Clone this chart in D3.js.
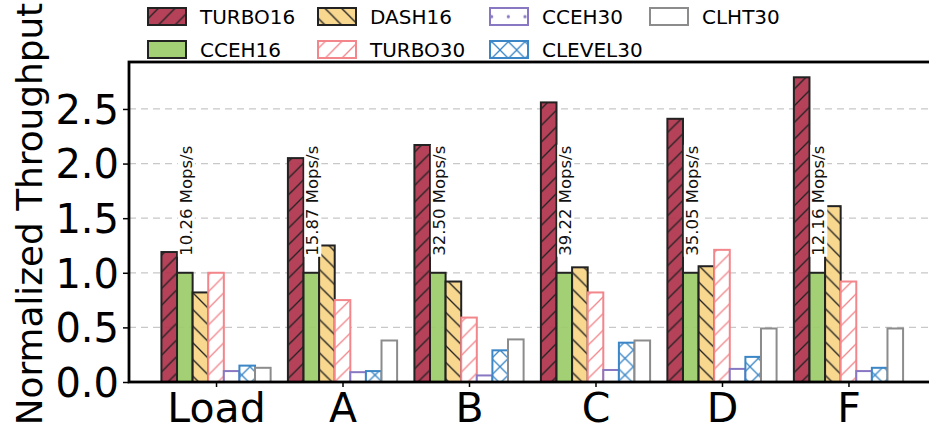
<!DOCTYPE html>
<html>
<head>
<meta charset="utf-8">
<script src="https://cdn.jsdelivr.net/npm/d3@7"></script>
<style>
  body { margin: 0; background: #fff; }
  svg { display: block; font-family: "DejaVu Sans", sans-serif; }
</style>
</head>
<body>
<svg id="chart" width="929" height="431"></svg>
<script>
// Workloads on the x axis
const categories = ["Load", "A", "B", "C", "D", "F"];

// Throughput normalized to CCEH16, one array per index
const turbo16  = [1.19, 2.05, 2.17, 2.56, 2.41, 2.79];
const cceh16   = [1.00, 1.00, 1.00, 1.00, 1.00, 1.00];
const dash16   = [0.82, 1.25, 0.92, 1.05, 1.06, 1.61];
const turbo30  = [1.00, 0.75, 0.59, 0.82, 1.21, 0.92];
const cceh30   = [0.10, 0.09, 0.06, 0.11, 0.12, 0.10];
const clevel30 = [0.15, 0.10, 0.29, 0.36, 0.23, 0.13];
const clht30   = [0.13, 0.38, 0.39, 0.38, 0.49, 0.49];

// Absolute throughput of the CCEH16 baseline for each workload
const baselineLabels = ["10.26 Mops/s", "15.87 Mops/s", "32.50 Mops/s",
                        "39.22 Mops/s", "35.05 Mops/s", "12.16 Mops/s"];

const yTicks = [0, 0.5, 1.0, 1.5, 2.0, 2.5];
const yTickLabels = ["0.0", "0.5", "1.0", "1.5", "2.0", "2.5"];

const series = [
  { name: "TURBO16",  values: turbo16,  fill: "#b0344d", stroke: "#222", hatch: "fwd",  hatchColor: "#222", opaque: true },
  { name: "CCEH16",   values: cceh16,   fill: "#9ccc6a", stroke: "#222", hatch: null,   hatchColor: null,   opaque: true },
  { name: "DASH16",   values: dash16,   fill: "#f8d486", stroke: "#222", hatch: "back", hatchColor: "#222", opaque: true },
  { name: "TURBO30",  values: turbo30,  fill: "#fff",    stroke: "#f2868b", hatch: "fwd",  hatchColor: "#f2868b" },
  { name: "CCEH30",   values: cceh30,   fill: "#fff",    stroke: "#8877c2", hatch: "dots", hatchColor: "#8877c2" },
  { name: "CLEVEL30", values: clevel30, fill: "#fff",    stroke: "#3a86c6", hatch: "cross", hatchColor: "#3a86c6" },
  { name: "CLHT30",   values: clht30,   fill: "#fff",    stroke: "#8c8c8c", hatch: null,   hatchColor: null }
];

const svg = d3.select("#chart");
const plot = { left: 129, right: 935.5, top: 62, bottom: 382 };

const x = d3.scalePoint().domain(categories)
  .range([plot.left, plot.right]).padding(0.688);
const y = d3.scaleLinear().domain([0, 2.93]).range([plot.bottom, plot.top]);
const barW = 15.6;
const nS = series.length;

// Hatch patterns, anchored to the page like a plotting library's hatches
const defs = svg.append("defs");
const s = 100 / 6;
function addPattern(id, kind, color) {
  const p = defs.append("pattern").attr("id", id)
    .attr("patternUnits", "userSpaceOnUse")
    .attr("width", s).attr("height", kind === "dots" ? 2 * s : s);
  const line = (x1, y1, x2, y2) => p.append("line")
    .attr("x1", x1).attr("y1", y1).attr("x2", x2).attr("y2", y2)
    .attr("stroke", color).attr("stroke-width", 1.3);
  if (kind === "fwd" || kind === "cross") {
    line(-1, s + 1, s + 1, -1);
    line(-2, 2, 2, -2);
    line(s - 2, s + 2, s + 2, s - 2);
  }
  if (kind === "back" || kind === "cross") {
    line(-1, -1, s + 1, s + 1);
    line(-2, s - 2, 2, s + 2);
    line(s - 2, -2, s + 2, 2);
  }
  if (kind === "dots") {
    [[0, 0], [s, 0], [0, 2 * s], [s, 2 * s], [s / 2, s]].forEach(([cx, cy]) =>
      p.append("circle").attr("cx", cx).attr("cy", cy).attr("r", 1.6).attr("fill", color));
  }
}
series.forEach((d, i) => { if (d.hatch) addPattern("hatch" + i, d.hatch, d.hatchColor); });

defs.append("clipPath").attr("id", "plotClip").append("rect")
  .attr("x", plot.left).attr("y", plot.top)
  .attr("width", plot.right - plot.left).attr("height", plot.bottom - plot.top);

// Dashed horizontal grid
svg.append("g")
  .selectAll("line").data(yTicks.filter(t => t > 0)).join("line")
  .attr("x1", plot.left).attr("x2", plot.right)
  .attr("y1", d => y(d)).attr("y2", d => y(d))
  .attr("stroke", "#c8c8c8").attr("stroke-width", 1.2)
  .attr("stroke-dasharray", "7,5");

// Bars
const barsG = svg.append("g").attr("clip-path", "url(#plotClip)");
series.forEach((ser, i) => {
  const g = barsG.append("g");
  const rects = categories.map((c, j) => ({
    x0: x(c) + (i - nS / 2) * barW,
    v: ser.values[j]
  }));
  // base fill
  g.selectAll("rect.fill").data(rects).join("rect").attr("class", "fill")
    .attr("x", d => d.x0).attr("y", d => y(d.v))
    .attr("width", barW).attr("height", d => y(0) - y(d.v))
    .attr("fill", ser.fill).attr("fill-opacity", ser.opaque ? 0.93 : 1);
  // hatch overlay
  if (ser.hatch) {
    g.selectAll("rect.hatch").data(rects).join("rect").attr("class", "hatch")
      .attr("x", d => d.x0).attr("y", d => y(d.v))
      .attr("width", barW).attr("height", d => y(0) - y(d.v))
      .attr("fill", `url(#hatch${i})`);
  }
  // outline
  g.selectAll("rect.edge").data(rects).join("rect").attr("class", "edge")
    .attr("x", d => d.x0).attr("y", d => y(d.v))
    .attr("width", barW).attr("height", d => y(0) - y(d.v))
    .attr("fill", "none").attr("stroke", ser.stroke).attr("stroke-width", 2);
});

// Baseline throughput labels above the CCEH16 bars
const labelFont = 16.5;
const lblG = svg.append("g");
categories.forEach((c, j) => {
  const cx = x(c) + (1 - nS / 2) * barW + barW / 2;
  const baseX = cx + 7;
  const startY = y(cceh16[j]) - 17;
  const t = lblG.append("text")
    .attr("transform", `translate(${baseX},${startY}) rotate(-90)`)
    .attr("font-size", labelFont).attr("fill", "#111")
    .text(baselineLabels[j]);
  const bb = t.node().getBBox();
  lblG.insert("rect", () => t.node())
    .attr("transform", `translate(${baseX},${startY}) rotate(-90)`)
    .attr("x", bb.x - 1).attr("y", bb.y + 1)
    .attr("width", bb.width + 2).attr("height", bb.height - 2)
    .attr("fill", "#fff");
});

// Axes frame
svg.append("rect")
  .attr("x", plot.left).attr("y", plot.top)
  .attr("width", plot.right - plot.left).attr("height", plot.bottom - plot.top)
  .attr("fill", "none").attr("stroke", "#000").attr("stroke-width", 2.8);

// Y axis
const yAxis = d3.axisLeft(y).tickValues(yTicks)
  .tickFormat((d, i) => yTickLabels[i]).tickSize(6).tickPadding(4);
const yg = svg.append("g").attr("transform", `translate(${plot.left},0)`).call(yAxis);
yg.select(".domain").remove();
yg.selectAll(".tick line").attr("stroke", "#000").attr("stroke-width", 1.5);
yg.selectAll(".tick text").attr("font-size", 40).attr("fill", "#000")
  .attr("font-family", "DejaVu Sans").attr("dy", "0.36em");

// X axis
const xAxis = d3.axisBottom(x).tickSize(5).tickPadding(6);
const xg = svg.append("g").attr("transform", `translate(0,${plot.bottom})`).call(xAxis);
xg.select(".domain").remove();
xg.selectAll(".tick line").attr("stroke", "#000").attr("stroke-width", 1.5);
xg.selectAll(".tick text").attr("font-size", 41).attr("fill", "#000")
  .attr("font-family", "DejaVu Sans").attr("dy", "0.7em");

// Y axis title
svg.append("text")
  .attr("transform", `translate(42,214) rotate(-90)`)
  .attr("text-anchor", "middle").attr("font-size", 35.8).attr("fill", "#000")
  .text("Normalized Throughput");

// Legend: 4 columns, 2 rows, filled column by column
const legCols = [148, 318, 490, 650];
const legRows = [8, 41];
const legG = svg.append("g");
series.forEach((ser, i) => {
  const col = Math.floor(i / 2), row = i % 2;
  const lx = legCols[col], ly = legRows[row];
  const item = legG.append("g");
  item.append("rect").attr("x", lx).attr("y", ly).attr("width", 38).attr("height", 17)
    .attr("fill", ser.fill).attr("fill-opacity", ser.opaque ? 0.93 : 1);
  if (ser.hatch) {
    item.append("rect").attr("x", lx).attr("y", ly).attr("width", 38).attr("height", 17)
      .attr("fill", `url(#hatch${i})`);
  }
  item.append("rect").attr("x", lx).attr("y", ly).attr("width", 38).attr("height", 17)
    .attr("fill", "none").attr("stroke", ser.stroke).attr("stroke-width", 2);
  item.append("text").attr("x", lx + 52).attr("y", ly + 8.5).attr("dy", "0.36em")
    .attr("font-size", 20).attr("fill", "#000").text(ser.name);
});
</script>
</body>
</html>
